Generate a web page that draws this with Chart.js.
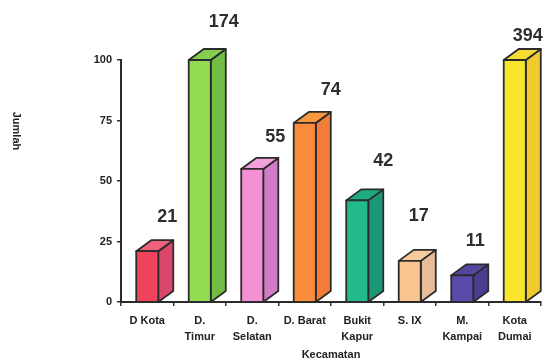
<!DOCTYPE html>
<html>
<head>
<meta charset="utf-8">
<script src="https://cdn.jsdelivr.net/npm/chart.js@4.4.1/dist/chart.umd.min.js"></script>
<style>
  html, body { margin: 0; padding: 0; background: #fff; }
  #wrap { width: 546px; height: 363px; position: relative; }
</style>
</head>
<body>
<div id="wrap"><canvas id="jumlahChart"></canvas></div>
<script>
// Jumlah per kecamatan (Kota Dumai = total)
const kecamatan = ['D Kota', ['D.', 'Timur'], ['D.', 'Selatan'], 'D. Barat', ['Bukit', 'Kapur'], 'S. IX', ['M.', 'Kampai'], ['Kota', 'Dumai']];
const jumlah = [21, 174, 55, 74, 42, 17, 11, 394];
const yTicks = [0, 25, 50, 75, 100];

// face colours: front, side, top
const frontColors = ['#f2435c', '#93dc52', '#f590d2', '#fb8c3c', '#22b98b', '#f9c490', '#5b4aa8', '#f9e62c'];
const sideColors  = ['#d9486a', '#74bd45', '#d27cc9', '#f27d38', '#1b9878', '#e8bc98', '#4a3e92', '#efcb30'];
const topColors   = ['#f0627a', '#86cf4e', '#f0a2dc', '#f8983f', '#20aa84', '#f6ca9c', '#5646a2', '#f5dd34'];

// where each value label sits relative to the bar's front top
const labelNudge = [[20, -34], [24, -38], [23, -32], [26, -33], [26, -39], [9, -45], [13, -34], [13, -24]];

const DX = 15, DY = 11; // 3d depth offset
const FONT = '"Liberation Sans", Arial, sans-serif';

const bar3d = {
    id: 'bar3d',
    afterDatasetsDraw(chart) {
        const ctx = chart.ctx;
        const y = chart.scales.y;
        const meta = chart.getDatasetMeta(0);
        const base = y.getPixelForValue(0);
        ctx.save();
        ctx.lineWidth = 1.8;
        ctx.strokeStyle = '#2b2b2b';
        ctx.lineJoin = 'round';
        meta.data.forEach((bar, i) => {
            const half = bar.width / 2;
            const x0 = bar.x - half, x1 = bar.x + half;
            // bars above the axis max are cut at the top of the scale
            const top = y.getPixelForValue(Math.min(jumlah[i], y.max));

            // side face
            ctx.beginPath();
            ctx.moveTo(x1, top);
            ctx.lineTo(x1 + DX, top - DY);
            ctx.lineTo(x1 + DX, base - DY);
            ctx.lineTo(x1, base);
            ctx.closePath();
            ctx.fillStyle = sideColors[i];
            ctx.fill();
            ctx.stroke();

            // top face
            ctx.beginPath();
            ctx.moveTo(x0, top);
            ctx.lineTo(x0 + DX, top - DY);
            ctx.lineTo(x1 + DX, top - DY);
            ctx.lineTo(x1, top);
            ctx.closePath();
            ctx.fillStyle = topColors[i];
            ctx.fill();
            ctx.stroke();

            // front face
            ctx.fillStyle = frontColors[i];
            ctx.fillRect(x0, top, x1 - x0, base - top);
            ctx.strokeRect(x0, top, x1 - x0, base - top);

            // value label
            ctx.fillStyle = '#2e2e2e';
            ctx.font = 'bold 18px ' + FONT;
            ctx.textAlign = 'center';
            ctx.textBaseline = 'middle';
            ctx.fillText(String(jumlah[i]), bar.x + labelNudge[i][0], top + labelNudge[i][1]);
        });
        ctx.restore();
    }
};

// y axis title reads top to bottom
const yTitle = {
    id: 'yTitle',
    afterDraw(chart) {
        const ctx = chart.ctx;
        const area = chart.chartArea;
        ctx.save();
        ctx.translate(16, (area.top + area.bottom) / 2 - 50);
        ctx.rotate(Math.PI / 2);
        ctx.fillStyle = '#222';
        ctx.font = 'bold 11px ' + FONT;
        ctx.textAlign = 'center';
        ctx.textBaseline = 'middle';
        ctx.fillText('Jumlah', 0, 0);
        ctx.restore();
    }
};

const jumlahChart = new Chart(document.getElementById('jumlahChart'), {
    type: 'bar',
    data: {
        labels: kecamatan,
        datasets: [{
            data: jumlah,
            backgroundColor: 'rgba(0,0,0,0)',
            borderWidth: 0,
            categoryPercentage: 1,
            barPercentage: 0.42
        }]
    },
    options: {
        responsive: true,
        maintainAspectRatio: false,
        animation: false,
        layout: { padding: { top: 60, right: 5, left: 0, bottom: 0 } },
        plugins: {
            legend: { display: false },
            tooltip: { enabled: false }
        },
        scales: {
            x: {
                afterFit: (scale) => { scale.height = 61; },
                grid: { drawOnChartArea: false, tickLength: 4, color: '#333', lineWidth: 1.5 },
                border: { color: '#2b2b2b', width: 2 },
                ticks: {
                    color: '#222',
                    padding: 7,
                    maxRotation: 0,
                    autoSkip: false,
                    font: { family: FONT, size: 11, weight: 'bold', lineHeight: 1.45 }
                },
                title: {
                    display: true,
                    text: 'Kecamatan',
                    color: '#222',
                    padding: { top: 0, bottom: 1 },
                    font: { family: FONT, size: 11, weight: 'bold' }
                }
            },
            y: {
                min: 0,
                max: 100,
                afterFit: (scale) => { scale.width = 121; },
                afterBuildTicks: (scale) => { scale.ticks = yTicks.map(v => ({ value: v })); },
                grid: { drawOnChartArea: false, tickLength: 4, color: '#333', lineWidth: 1.5 },
                border: { color: '#2b2b2b', width: 2 },
                ticks: {
                    color: '#222',
                    padding: 5,
                    font: { family: FONT, size: 11, weight: 'bold' }
                }
            }
        }
    },
    plugins: [bar3d, yTitle]
});
</script>
</body>
</html>
